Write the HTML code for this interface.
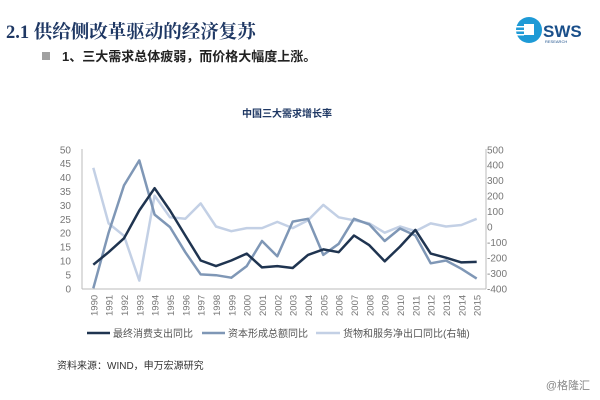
<!DOCTYPE html>
<html><head><meta charset="utf-8"><style>
body{margin:0;width:600px;height:400px;background:#fff;overflow:hidden;font-family:"Liberation Sans","Noto Sans CJK SC",sans-serif}
svg{position:absolute;left:0;top:0}
</style></head><body>
<svg id="s" width="600" height="400" xmlns="http://www.w3.org/2000/svg" font-family="Liberation Sans, Noto Sans CJK SC, sans-serif">
<text x="6" y="38" font-size="18.5" font-weight="bold" fill="#1f3864" font-family="Liberation Serif, Noto Serif CJK SC, serif">2.1 供给侧改革驱动的经济复苏</text>
<rect x="42" y="52" width="8" height="8" fill="#a0a0a0"/>
<text x="62" y="61" font-size="13" font-weight="bold" fill="#222">1、三大需求总体疲弱，而价格大幅度上涨。</text>
<circle cx="529" cy="30" r="13" fill="#1e9ad6"/>
<rect x="524" y="24" width="10" height="11" fill="#fff"/>
<rect x="516" y="26" width="8" height="1.5" fill="#fff"/><rect x="516" y="30" width="8" height="1.5" fill="#fff"/><rect x="516" y="34" width="8" height="1.5" fill="#fff"/>
<text x="543" y="37" font-size="17" font-weight="bold" fill="#1a4f8a">SWS</text>
<text x="545" y="43" font-size="4" fill="#1a4f8a">RESEARCH</text>
<text x="287" y="117" font-size="10" font-weight="bold" fill="#1f3864" text-anchor="middle">中国三大需求增长率</text>
<g id="ch"></g>
<line x1="87" y1="333" x2="110" y2="333" stroke="#1f3450" stroke-width="2.5"/>
<text x="113" y="337" font-size="10" fill="#555">最终消费支出同比</text>
<line x1="202" y1="333" x2="225" y2="333" stroke="#7f97b6" stroke-width="2.5"/>
<text x="228" y="337" font-size="10" fill="#555">资本形成总额同比</text>
<line x1="316" y1="333" x2="340" y2="333" stroke="#c3d0e5" stroke-width="2.5"/>
<text x="343" y="337" font-size="10" fill="#555">货物和服务净出口同比(右轴)</text>
<text x="57" y="369" font-size="10" fill="#333">资料来源：WIND，申万宏源研究</text>
<text x="590" y="389" font-size="11" fill="#888" text-anchor="end">@格隆汇</text>
</svg>
<script>
var g=document.getElementById('ch'),h='';
var x0=93.3,dx=(476.7-93.3)/25,y0=288.3,yl=(288.3-149.3)/50,yr=(288.3-149.3)/900;
for(var i=0;i<=10;i++){var v=i*5,y=y0-v*yl;h+='<text x="71" y="'+(y+4)+'" font-size="10" fill="#777" text-anchor="end">'+v+'</text>';
var r=-400+i*100;if(i<=9){var yy=y0-(r+400)*yr;h+='<text x="487" y="'+(yy+4)+'" font-size="10" fill="#777">'+r+'</text>';}}
h+='<line x1="82" y1="149" x2="82" y2="289" stroke="#bbb"/><line x1="486" y1="149" x2="486" y2="289" stroke="#bbb"/><line x1="82" y1="289" x2="486" y2="289" stroke="#bbb"/>';
for(var i=0;i<26;i++){var x=x0+i*dx;h+='<text transform="translate('+(x+4)+',316) rotate(-90)" font-size="9.5" fill="#777">'+(1990+i)+'</text>';}
var c=[8.5,13,18,28,36,28,19,10,8,10,12.5,7.5,8,7.3,12,14,13,19,15.5,9.7,15,21,12.5,11,9.3,9.5];
var k=[0,20,37,46,26.5,22,13,5,4.7,3.8,8,17,11.5,24,25,12,16,25,23,17,21.5,19,9,10,7,3.5];
var n=[380,20,-60,-350,200,60,50,150,0,-30,-10,-10,30,-10,40,140,60,40,20,-40,0,-30,20,0,10,50];
function pl(a,f,col,w){return '<polyline fill="none" stroke="'+col+'" stroke-width="'+w+'" stroke-linejoin="round" points="'+a.map(function(v,i){return (x0+i*dx).toFixed(1)+','+f(v).toFixed(1)}).join(' ')+'"/>';}
h+=pl(n,function(v){return y0-(v+400)*yr},'#c3d0e5',2.5);
h+=pl(k,function(v){return y0-v*yl},'#7f97b6',2.5);
h+=pl(c,function(v){return y0-v*yl},'#1f3450',2.5);
g.innerHTML=h;
</script>
</body></html>
